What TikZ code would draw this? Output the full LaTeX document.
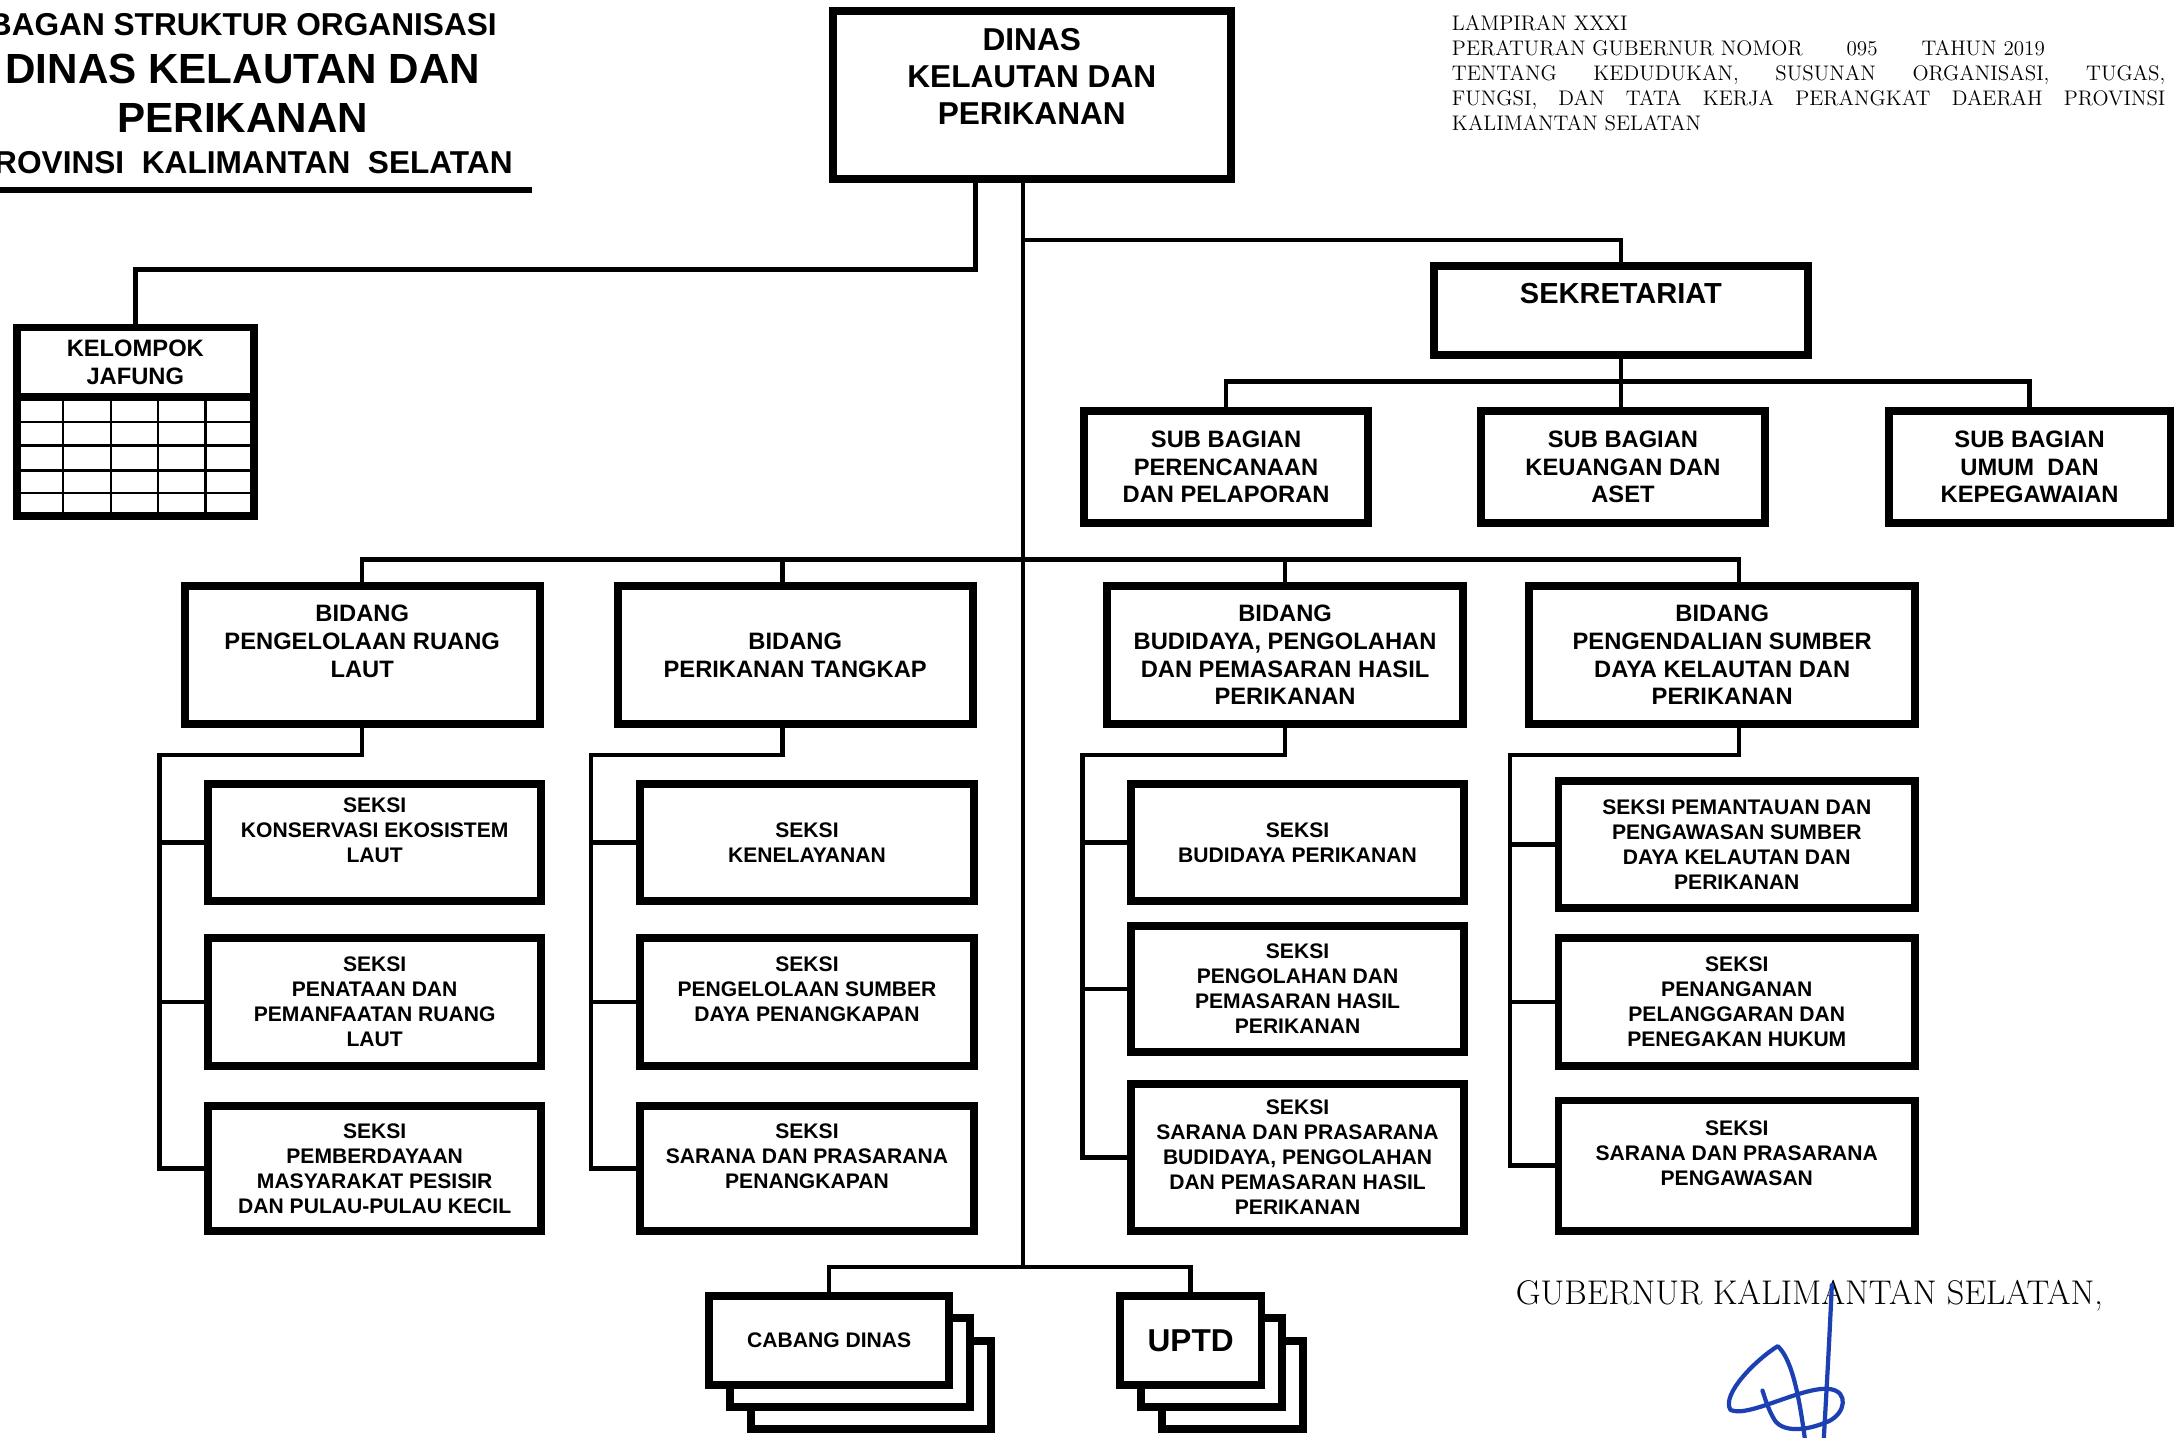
\documentclass[tikz,border=0pt]{standalone}
\usepackage{fontspec}
\newfontfamily\orgfont{Liberation Sans}
\usetikzlibrary{calc,backgrounds}
\definecolor{inkblue}{RGB}{28,64,180}
\def\dpx{0.02776cm}
\newcommand{\emptyrow}{\vphantom{A}}

\begin{document}
\begin{tikzpicture}[x=0.02776cm, y=-0.02776cm,
  box/.style={draw, line width=4.5pt, fill=white, align=center, inner sep=0pt, outer sep=0pt},
  conn/.style={line width=2.6pt},
  cell/.style={line width=1.3pt},
  sz/.style 2 args={minimum width=#1*\dpx, minimum height=#2*\dpx},
  seksi/.style={box, font=\orgfont\bfseries\fontsize{12}{14.2}\selectfont},
  bidang/.style={box, font=\orgfont\bfseries\fontsize{13.5}{15.8}\selectfont},
  heading/.style={inner sep=0pt}]
\useasboundingbox (0,0) rectangle (1568,1036);
% title
\node[heading, font=\orgfont\bfseries\fontsize{18}{20}\selectfont] (ttl1) at (175,18) {BAGAN STRUKTUR ORGANISASI};
\node[heading, font=\orgfont\bfseries\fontsize{24}{26}\selectfont] (ttl2) at (175,50) {DINAS KELAUTAN DAN};
\node[heading, font=\orgfont\bfseries\fontsize{24}{26}\selectfont] (ttl3) at (175,85) {PERIKANAN};
\node[heading, font=\orgfont\bfseries\fontsize{18}{20}\selectfont] (ttl4) at (175,117) {PROVINSI\ \ KALIMANTAN\ \ SELATAN};
\draw[line width=3.4pt] (0,137) -- (383,137);
% lampiran
\node[heading, anchor=north west, align=left, font=\fontsize{12}{14.2}\selectfont] (lampiran) at (1046,11) {LAMPIRAN XXXI\\
PERATURAN GUBERNUR NOMOR\hspace{25pt}095\hspace{25pt}TAHUN 2019\\
\makebox[406pt][s]{TENTANG KEDUDUKAN, SUSUNAN ORGANISASI, TUGAS,}\\
\makebox[406pt][s]{FUNGSI, DAN TATA KERJA PERANGKAT DAERAH PROVINSI}\\
KALIMANTAN SELATAN};
% kepala dinas
\node[box, font=\orgfont\bfseries\fontsize{18}{21}\selectfont, sz={287}{121}] (dinas) at (743.5,68.5) {DINAS\\KELAUTAN DAN\\PERIKANAN\\\emptyrow};
% kelompok jafung
\node[bidang, sz={171}{50}] (jafung) at (97.5,261) {KELOMPOK\\JAFUNG};
\draw[line width=4.5pt] (jafung.south west) rectangle ($(jafung.south east)+(0,86)$);
\draw[cell] (45.5,286) -- (45.5,372);
\draw[cell] (80,286) -- (80,372);
\draw[cell] (114,286) -- (114,372);
\draw[cell] (148,286) -- (148,372);
\draw[cell] (12,304) -- (183,304);
\draw[cell] (12,321) -- (183,321);
\draw[cell] (12,339) -- (183,339);
\draw[cell] (12,355) -- (183,355);
% sekretariat
\node[box, font=\orgfont\bfseries\fontsize{16.5}{20}\selectfont, sz={270}{64}] (sekre) at (1168,224) {SEKRETARIAT\\\emptyrow};
\node[bidang, sz={205}{81}] (sb1) at (883.5,336.5) {SUB BAGIAN\\PERENCANAAN\\DAN PELAPORAN};
\node[bidang, sz={205}{81}] (sb2) at (1169.5,336.5) {SUB BAGIAN\\KEUANGAN DAN\\ASET};
\node[bidang, sz={203}{81}] (sb3) at (1462.5,336.5) {SUB BAGIAN\\UMUM\ \ DAN\\KEPEGAWAIAN};
% bidang
\node[bidang, sz={256}{100}] (b1) at (261,472) {BIDANG\\PENGELOLAAN RUANG\\LAUT\\\emptyrow};
\node[bidang, sz={256}{100}] (b2) at (573,472) {\emptyrow\\BIDANG\\PERIKANAN TANGKAP\\\emptyrow};
\node[bidang, sz={256}{100}] (b3) at (926,472) {BIDANG\\BUDIDAYA, PENGOLAHAN\\DAN PEMASARAN HASIL\\PERIKANAN};
\node[bidang, sz={278}{100}] (b4) at (1241,472) {BIDANG\\PENGENDALIAN SUMBER\\DAYA KELAUTAN DAN\\PERIKANAN};
% seksi
\node[seksi, sz={240}{84}] (s11) at (270,607) {SEKSI\\KONSERVASI EKOSISTEM\\LAUT\\\emptyrow};
\node[seksi, sz={240}{92}] (s12) at (270,722) {SEKSI\\PENATAAN DAN\\PEMANFAATAN RUANG\\LAUT};
\node[seksi, sz={240}{90}] (s13) at (270,842) {SEKSI\\PEMBERDAYAAN\\MASYARAKAT PESISIR\\DAN PULAU-PULAU KECIL};
\node[seksi, sz={241}{84}] (s21) at (581.5,607) {SEKSI\\KENELAYANAN};
\node[seksi, sz={241}{92}] (s22) at (581.5,722) {SEKSI\\PENGELOLAAN SUMBER\\DAYA PENANGKAPAN\\\emptyrow};
\node[seksi, sz={241}{90}] (s23) at (581.5,842) {SEKSI\\SARANA DAN PRASARANA\\PENANGKAPAN\\\emptyrow};
\node[seksi, sz={240}{84}] (s31) at (935,607) {SEKSI\\BUDIDAYA PERIKANAN};
\node[seksi, sz={240}{91}] (s32) at (935,712.5) {SEKSI\\PENGOLAHAN DAN\\PEMASARAN HASIL\\PERIKANAN};
\node[seksi, sz={240}{106}] (s33) at (935,834) {SEKSI\\SARANA DAN PRASARANA\\BUDIDAYA, PENGOLAHAN\\DAN PEMASARAN HASIL\\PERIKANAN};
\node[seksi, sz={257}{91}] (s41) at (1251.5,608.5) {SEKSI PEMANTAUAN DAN\\PENGAWASAN SUMBER\\DAYA KELAUTAN DAN\\PERIKANAN};
\node[seksi, sz={257}{92}] (s42) at (1251.5,722) {SEKSI\\PENANGANAN\\PELANGGARAN DAN\\PENEGAKAN HUKUM};
\node[seksi, sz={257}{94}] (s43) at (1251.5,840) {SEKSI\\SARANA DAN PRASARANA\\PENGAWASAN\\\emptyrow};
% cabang dinas, uptd
\node[seksi, sz={173}{64}] (cabang) at (597.5,966) {CABANG DINAS};
\node[box, font=\orgfont\bfseries\fontsize{18}{20}\selectfont, sz={102}{64}] (uptd) at (858,966) {UPTD};
\begin{scope}[on background layer]
\fill[white] (0,0) rectangle (1568,1036);
\draw[box] ($(cabang.south west)+(30,32)$) rectangle ($(cabang.north east)+(30,32)$);
\draw[box] ($(cabang.south west)+(15,16)$) rectangle ($(cabang.north east)+(15,16)$);
\draw[box] ($(uptd.south west)+(30,32)$) rectangle ($(uptd.north east)+(30,32)$);
\draw[box] ($(uptd.south west)+(15,16)$) rectangle ($(uptd.north east)+(15,16)$);
\end{scope}
% lines
\coordinate (jbend) at (703,194);
\coordinate (trunkend) at (737,913);
\coordinate (skbend) at (737,173);
\coordinate (subbus) at (0,275);
\coordinate (bidbus) at (0,403);
\coordinate (b2top) at ($(b2.north)+(-9,0)$);
\coordinate (b4top) at ($(b4.north)+(12,0)$);
\coordinate (sp1) at (115,544);
\coordinate (sp2) at (426,544);
\coordinate (sp3) at (780,544);
\coordinate (sp4) at (1088,544);
\draw[conn] (jbend |- dinas.south) -- (jbend) -| (jafung.north);
\draw[conn] (trunkend |- dinas.south) -- (trunkend);
\draw[conn] (skbend) -| (sekre.north);
\draw[conn] (sekre.south) -- (sekre.south |- sb2.north);
\draw[conn] (sb1.north) |- (sb3.north |- subbus) -- (sb3.north);
\draw[conn] (b1.north) |- (b4top |- bidbus) -- (b4top);
\draw[conn] (b2top) -- (b2top |- bidbus);
\draw[conn] (b3.north) -- (b3.north |- bidbus);
\draw[conn] (b1.south) |- (sp1) |- (s13.west);
\draw[conn] (sp1 |- s11.west) -- (s11.west);
\draw[conn] (sp1 |- s12.west) -- (s12.west);
\draw[conn] ($(b2.south)+(-9,0)$) |- (sp2) |- (s23.west);
\draw[conn] (sp2 |- s21.west) -- (s21.west);
\draw[conn] (sp2 |- s22.west) -- (s22.west);
\draw[conn] (b3.south) |- (sp3) |- (s33.west);
\draw[conn] (sp3 |- s31.west) -- (s31.west);
\draw[conn] (sp3 |- s32.west) -- (s32.west);
\draw[conn] ($(b4.south)+(12,0)$) |- (sp4) |- (s43.west);
\draw[conn] (sp4 |- s41.west) -- (s41.west);
\draw[conn] (sp4 |- s42.west) -- (s42.west);
\draw[conn] (cabang.north) |- (uptd.north |- trunkend) -- (uptd.north);
% gubernur
\node[heading, anchor=base west, font=\fontsize{19.5}{22}\selectfont] (gub) at (1092,940) {GUBERNUR KALIMANTAN SELATAN,};
\draw[inkblue, line width=2.4pt, line cap=round] (1320,926) .. controls (1318,970) and (1316,1005) .. (1314,1040);
\draw[inkblue, line width=2.4pt, line cap=round, line join=round] (1301,1040) .. controls (1297,1010) and (1292,980) .. (1281,970) .. controls (1265,980) and (1240,1005) .. (1247,1016) .. controls (1260,1022) and (1300,998) .. (1319,1001) .. controls (1332,1003) and (1330,1018) .. (1318,1024) .. controls (1300,1032) and (1283,1032) .. (1278,1022) .. controls (1274,1015) and (1272,1008) .. (1270,1002);
\end{tikzpicture}
\end{document}
